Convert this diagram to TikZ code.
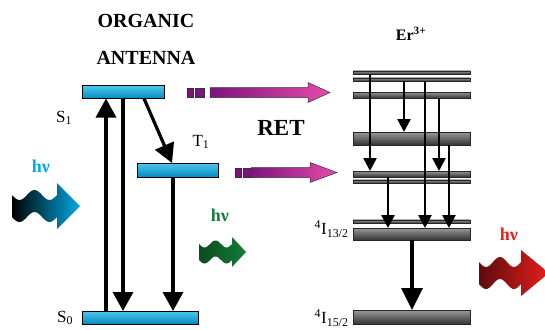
\documentclass[tikz,border=0pt]{standalone}
\usepackage{fontspec}
\setmainfont{Liberation Serif}[BoldFont={Liberation Serif Bold}]
\usetikzlibrary{arrows.meta}
\definecolor{cyanA}{RGB}{80,200,235}
\definecolor{cyanB}{RGB}{0,140,195}
\definecolor{hvblue}{RGB}{0,170,230}
\definecolor{hvgreen}{RGB}{20,125,55}
\definecolor{hvred}{RGB}{230,30,30}
\definecolor{magL}{RGB}{125,20,125}
\definecolor{magR}{RGB}{230,75,170}
\newcommand\wavyarrow[9]{%
  \shade[left color=#7,right color=#8]
    plot[domain=0:#3,samples=40,smooth] ({#1+\x},{#2-#5+#9*sin(\x/#3*540)})
    -- (#1+#3,#2-#6) -- (#1+#3+#4,#2) -- (#1+#3,#2+#6)
    -- plot[domain=#3:0,samples=40,smooth] ({#1+\x},{#2+#5+#9*sin(\x/#3*540)})
    -- cycle;}
\newcommand\retarrow[6]{%
  \filldraw[fill=magL,draw=black!80,line width=0.5pt] (#1,#2-4.5) rectangle (#1+6,#2+4.5);
  \filldraw[fill=magL,draw=black!80,line width=0.5pt] (#1+8,#2-4.5) rectangle (#1+17,#2+4.5);
  \shadedraw[left color=magL,right color=magR,draw=black!80,line width=0.5pt]
    (#3,#2-5) -- (#4,#2-5) -- (#4,#2-#6) -- (#5,#2) -- (#4,#2+#6) -- (#4,#2+5) -- (#3,#2+5) -- cycle;}
\begin{document}
\begin{tikzpicture}[x=1pt,y=-1pt,
  cbar/.style={draw=black,line width=0.8pt,top color=cyanA,bottom color=cyanB,inner sep=0pt,outer sep=0pt},
  gbar/.style={draw=black!85,line width=0.5pt,top color=black!40,bottom color=black!80,inner sep=0pt,outer sep=0pt,minimum width=117pt},
  bigarr/.style={line width=3.2pt,-{Triangle[width=20pt,length=19pt]}},
  smarr/.style={line width=2.5pt,-{Triangle[width=13pt,length=13pt]}},
  erarr/.style={line width=3.5pt,-{Triangle[width=21pt,length=22pt]}},
  title/.style={font=\fontsize{20}{20}\selectfont\bfseries},
  lab/.style={font=\fontsize{17}{17}\selectfont}
]
\useasboundingbox (0,0) rectangle (545,329);

% titles
\node[title] (org) at (146,21) {ORGANIC};
\node[title] (ant) at (146,58) {ANTENNA};
\node[font=\fontsize{16}{16}\selectfont\bfseries] (er) at (411,34) {Er\textsuperscript{3+}};
\node[font=\fontsize{23}{23}\selectfont\bfseries] (ret) at (281,128) {RET};

% organic levels
\node[cbar,minimum width=82pt,minimum height=13pt] (S1) at (123,92) {};
\node[cbar,minimum width=81pt,minimum height=14pt] (T1) at (177.5,170) {};
\node[cbar,minimum width=116pt,minimum height=13pt] (S0) at (140,317.5) {};
\node[lab] (S1l) at (64,118) {S\textsubscript{1}};
\node[lab] (T1l) at (201,142) {T\textsubscript{1}};
\node[lab] (S0l) at (65,318) {S\textsubscript{0}};

% Er levels
\node[gbar,minimum height=3.5pt] (La) at (411.5,72.5) {};
\node[gbar,minimum height=3.5pt] (Lb) at (411.5,79.5) {};
\node[gbar,minimum height=6pt] (Lc) at (411.5,95) {};
\node[gbar,minimum height=13pt] (Ld) at (411.5,138.5) {};
\node[gbar,minimum height=6pt] (Le) at (411.5,174) {};
\node[gbar,minimum height=3.5pt] (Lf) at (411.5,181.5) {};
\node[gbar,minimum height=3.5pt] (Lg) at (411.5,221.5) {};
\node[gbar,minimum height=12pt] (Lh) at (411.5,234) {};
\node[gbar,minimum height=14pt] (Lgs) at (411.5,317) {};
\node[lab,anchor=east] (I13) at (352,229) {\textsuperscript{4}I\textsubscript{13/2}};
\node[lab,anchor=east] (I15) at (352,318) {\textsuperscript{4}I\textsubscript{15/2}};

% organic transitions
\draw[bigarr] (S0.north -| 106,0) -- (S1.south -| 106,0);
\draw[bigarr] (S1.south -| 123,0) -- (S0.north -| 123,0);
\draw[bigarr] (S1.south -| 144,0) -- (T1.north -| 172,0);
\draw[bigarr] (T1.south -| 173,0) -- (S0.north -| 173,0);

% Er transitions
\draw[smarr] (La.south -| 370,0) -- (Le.north -| 370,0);
\draw[smarr] (Lb.south -| 404,0) -- (Ld.north -| 404,0);
\draw[smarr] (Lb.south -| 425,0) -- (Lh.north -| 425,0);
\draw[smarr] (Lc.south -| 439,0) -- (Le.north -| 439,0);
\draw[smarr] (Ld.south -| 449,0) -- (Lh.north -| 449,0);
\draw[smarr] (Le.south -| 388,0) -- (Lh.north -| 388,0);
\draw[erarr] (Lh.south -| 412,0) -- (Lgs.north -| 412,0);

% RET arrows
\retarrow{187}{92.5}{210}{308}{330}{10}
\retarrow{235}{172.5}{251}{310}{337}{10}

% photons
\node[font=\fontsize{18}{18}\selectfont\bfseries,text=hvblue] (hv1) at (41,166) {hν};
\wavyarrow{12}{206}{45}{23}{11}{23}{black}{hvblue}{5}
\node[font=\fontsize{18}{18}\selectfont\bfseries,text=hvgreen] (hv2) at (220,215) {hν};
\wavyarrow{199}{252}{33}{14}{8}{15}{hvgreen!60!black}{hvgreen}{3.5}
\node[font=\fontsize{18}{18}\selectfont\bfseries,text=hvred] (hv3) at (509,234) {hν};
\wavyarrow{479}{273}{42}{28}{11}{23}{hvred!40!black}{hvred}{5}
\end{tikzpicture}
\end{document}
